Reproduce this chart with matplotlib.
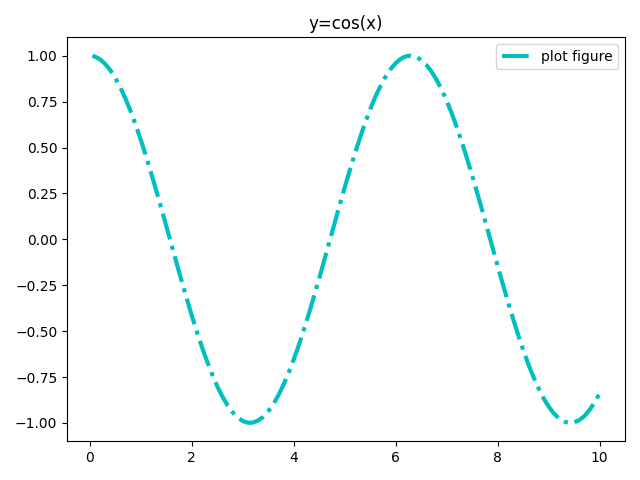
import matplotlib
matplotlib.use("Agg")
import matplotlib.pyplot as plt

# valeurs (pas de 0.1)
x_vals = [0.05, 0.1, 0.2, 0.3, 0.4, 0.5, 0.6, 0.7, 0.8, 0.9,
          1.0, 1.1, 1.2, 1.3, 1.4, 1.5, 1.6, 1.7, 1.8, 1.9,
          2.0, 2.1, 2.2, 2.3, 2.4, 2.5, 2.6, 2.7, 2.8, 2.9,
          3.0, 3.1, 3.2, 3.3, 3.4, 3.5, 3.6, 3.7, 3.8, 3.9,
          4.0, 4.1, 4.2, 4.3, 4.4, 4.5, 4.6, 4.7, 4.8, 4.9,
          5.0, 5.1, 5.2, 5.3, 5.4, 5.5, 5.6, 5.7, 5.8, 5.9,
          6.0, 6.1, 6.2, 6.3, 6.4, 6.5, 6.6, 6.7, 6.8, 6.9,
          7.0, 7.1, 7.2, 7.3, 7.4, 7.5, 7.6, 7.7, 7.8, 7.9,
          8.0, 8.1, 8.2, 8.3, 8.4, 8.5, 8.6, 8.7, 8.8, 8.9,
          9.0, 9.1, 9.2, 9.3, 9.4, 9.5, 9.6, 9.7, 9.8, 9.9, 10.0]
y_vals = [0.999, 0.995, 0.980, 0.955, 0.921, 0.878, 0.825, 0.765, 0.697, 0.622,
          0.540, 0.454, 0.362, 0.267, 0.170, 0.071, -0.029, -0.129, -0.227, -0.323,
          -0.416, -0.505, -0.589, -0.666, -0.737, -0.801, -0.857, -0.904, -0.942, -0.971,
          -0.990, -0.999, -0.998, -0.987, -0.967, -0.936, -0.897, -0.848, -0.791, -0.726,
          -0.654, -0.575, -0.490, -0.401, -0.307, -0.211, -0.112, -0.012, 0.087, 0.187,
          0.284, 0.378, 0.469, 0.554, 0.635, 0.709, 0.776, 0.835, 0.886, 0.927,
          0.960, 0.983, 0.997, 1.000, 0.993, 0.977, 0.950, 0.914, 0.869, 0.816,
          0.754, 0.685, 0.608, 0.526, 0.439, 0.347, 0.251, 0.153, 0.054, -0.046,
          -0.146, -0.244, -0.339, -0.431, -0.519, -0.602, -0.679, -0.749, -0.811, -0.866,
          -0.911, -0.948, -0.975, -0.992, -1.000, -0.997, -0.985, -0.963, -0.930, -0.889, -0.839]

plt.figure(figsize=(6.4, 4.8), dpi=100)
plt.plot(x_vals, y_vals, color='c', linestyle='-.', linewidth=3, label='plot figure')
plt.title('y=cos(x)')
plt.legend()
plt.tight_layout()
plt.savefig('out.png')
